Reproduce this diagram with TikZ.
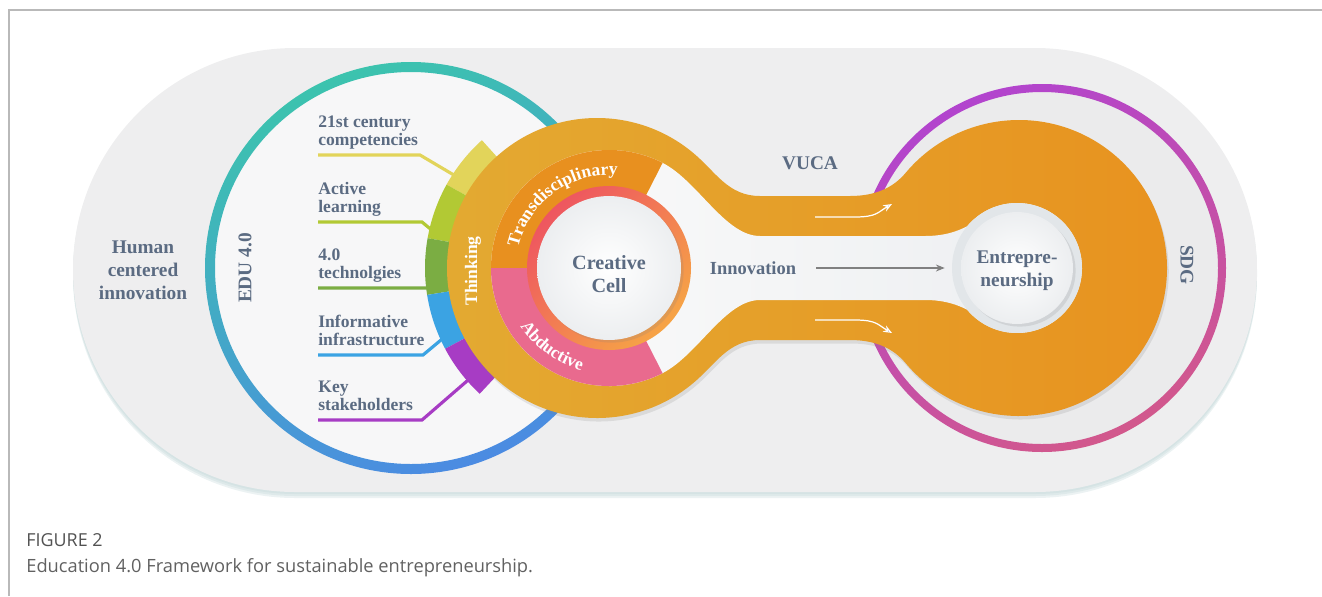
\documentclass[tikz,border=0pt]{standalone}
\usepackage{fontspec}
\setmainfont{Liberation Serif}
\newfontfamily\capfont{Open Sans}
\usepackage{tikz}
\usetikzlibrary{positioning, shadows, decorations.text, calc, arrows.meta}

\definecolor{slate}{HTML}{5B6B82}
\definecolor{pillgray}{HTML}{EEEEEF}
\definecolor{sdgfill}{HTML}{EBEBEC}
\definecolor{shadowblue}{HTML}{BFD5D6}
\definecolor{eduteal}{HTML}{3CC3AE}
\definecolor{edublue}{HTML}{4B8BE2}
\definecolor{segyellow}{HTML}{E2D45A}
\definecolor{seglime}{HTML}{B2C934}
\definecolor{seggreen}{HTML}{7BAD43}
\definecolor{segblue}{HTML}{3BA3E3}
\definecolor{segpurple}{HTML}{A73CC4}
\definecolor{goldring}{HTML}{E3AA32}
\definecolor{deeporange}{HTML}{E8921F}
\definecolor{transorange}{HTML}{E8901F}
\definecolor{abdpink}{HTML}{E96A8E}
\definecolor{cellred}{HTML}{EE5660}
\definecolor{cellorange}{HTML}{F6A446}
\definecolor{sdgpurple}{HTML}{B244CE}
\definecolor{sdgpink}{HTML}{D2588C}
\definecolor{channel}{HTML}{ECEEF0}
\definecolor{halogray}{HTML}{E2E6E9}

\begin{document}
\begin{tikzpicture}[
        x=0.02cm, y=0.02cm,
        font=\bfseries,
        % Styles
        itemlabel/.style={
            text=slate,
            align=left,
            anchor=south west,
            inner sep=0pt,
            font=\bfseries\fontsize{10}{10.3}\selectfont
          },
        title/.style={
            text=slate,
            align=center,
            inner sep=0pt,
            font=\bfseries\fontsize{11}{13.2}\selectfont
          },
        onband/.style={
            text=white,
            inner sep=0pt,
            font=\bfseries\fontsize{10}{12}\selectfont
          },
        leader/.style={
            line width=1.8pt
          },
        disk/.style={
            circle,
            inner color=white,
            outer color=channel,
            draw=none,
            drop shadow={opacity=0.18, shadow xshift=1.5pt, shadow yshift=-1.5pt}
          },
        arrow/.style={
            -{Stealth[length=5pt, width=4pt]},
            draw=gray,
            line width=0.6pt
          },
        swoosh/.style={
            -{Stealth[length=5pt, width=4pt]},
            draw=white,
            line width=0.7pt
          },
        caption/.style={
            anchor=base west,
            inner sep=0pt,
            font=\capfont\fontsize{10.4}{12}\selectfont,
            text=black!62
          }
      ]
      \useasboundingbox (0,0) rectangle (1322,-596);

      % Centres
      \coordinate (edu) at (411,-268);
      \coordinate (gold) at (597,-268);
      \coordinate (cell) at (609,-268);
      \coordinate (bigor) at (1019,-268);
      \coordinate (entre) at (1017,-268);
      \coordinate (sdg) at (1042,-268);

      % Frame
      \draw[gray!55, line width=0.8pt] (9,-596) -- (9,-10) -- (1322,-10);

      % Background pill
      \foreach \s in {2,4,6}
        \fill[shadowblue, opacity=0.3] (295,-48-\s) -- (1035,-48-\s) arc (90:-90:222) -- (295,-492-\s) arc (270:90:222) -- cycle;
      \fill[pillgray] (295,-48) -- (1035,-48) arc (90:-90:222) -- (295,-492) arc (270:90:222) -- cycle;
      \node[title] (human) at (143,-270) {Human\\centered\\innovation};

      % EDU 4.0 circle
      \fill[white!55!pillgray] (edu) circle[radius=200];
      \path[even odd rule, top color=eduteal, bottom color=edublue, shading angle=20] (edu) circle[radius=206] (edu) circle[radius=196];
      \node[title, rotate=90] (edulabel) at (245,-268) {EDU 4.0};

      % Item segments
      \fill[segyellow] ($(gold)+(132:172)$) arc (132:151:172) -- ($(gold)+(151:140)$) arc (151:132:140) -- cycle;
      \fill[seglime] ($(gold)+(151:172)$) arc (151:170:172) -- ($(gold)+(170:140)$) arc (170:151:140) -- cycle;
      \fill[seggreen] ($(gold)+(170:172)$) arc (170:189:172) -- ($(gold)+(189:140)$) arc (189:170:140) -- cycle;
      \fill[segblue] ($(gold)+(189:172)$) arc (189:208:172) -- ($(gold)+(208:140)$) arc (208:189:140) -- cycle;
      \fill[segpurple] ($(gold)+(208:172)$) arc (208:227:172) -- ($(gold)+(227:140)$) arc (227:208:140) -- cycle;
      \coordinate (seg1) at ($(gold)+(147:171)$);
      \coordinate (seg2) at ($(gold)+(167:170)$);
      \coordinate (seg3) at ($(gold)+(186.7:171)$);
      \coordinate (seg4) at ($(gold)+(204.6:170)$);
      \coordinate (seg5) at ($(gold)+(221:167)$);

      % Item labels
      \node[itemlabel] (comp) at (318,-151) {21st century\\competencies\strut};
      \node[itemlabel] (active) at (318,-218) {Active\\learning\strut};
      \node[itemlabel] (tech) at (318,-284) {4.0\\technolgies\strut};
      \node[itemlabel] (infra) at (318,-351) {Informative\\infrastructure\strut};
      \node[itemlabel] (stake) at (318,-416) {Key\\stakeholders\strut};

      % Leader lines
      \draw[leader, segyellow] (comp.south west) ++(0,-4) -- ++(102,0) -- (seg1);
      \draw[leader, seglime] (active.south west) ++(0,-4) -- ++(104,0) -- (seg2);
      \draw[leader, seggreen] (tech.south west) ++(0,-4) -- (seg3);
      \draw[leader, segblue] (infra.south west) ++(0,-4) -- ++(105,0) -- (seg4);
      \draw[leader, segpurple] (stake.south west) ++(0,-4) -- ++(104,0) -- (seg5);

      % SDG circle
      \fill[sdgfill] (sdg) circle[radius=178];
      \path[even odd rule, top color=sdgpurple, bottom color=sdgpink, shading angle=25] (sdg) circle[radius=184] (sdg) circle[radius=176];
      \node[title, rotate=-90] (sdglabel) at (1187,-265) {SDG};

      % Thinking ring, tubes and entrepreneurship body
      \path[drop shadow={opacity=0.18, shadow xshift=1pt, shadow yshift=-2pt}, left color=goldring, right color=deeporange]
        ($(gold)+(50:150)$) .. controls (716,-172) and (728,-196) .. (760,-196) -- (850,-196)
        .. controls (875,-196) and (893,-188) .. ($(bigor)+(140:148)$) arc (140:-140:148)
        .. controls (893,-348) and (875,-340) .. (850,-340) -- (760,-340)
        .. controls (728,-340) and (716,-364) .. ($(gold)+(-50:150)$) arc (-50:-310:150) -- cycle;

      % Innovation channel
      \path[left color=white!80!pillgray, right color=channel]
        ($(cell)+(63:118)$) .. controls (698,-181) and (725,-236) .. (760,-236) -- (925,-236)
        .. controls (945,-236) and (958,-231) .. ($(entre)+(140:65)$) arc (140:-140:65)
        .. controls (958,-305) and (945,-300) .. (925,-300) -- (760,-300)
        .. controls (725,-300) and (698,-355) .. ($(cell)+(-63:118)$) arc (-63:-297:118) -- cycle;

      % Transdisciplinary / Abductive band
      \fill[transorange] ($(cell)+(63:118)$) arc (63:180:118) -- ($(cell)+(180:81)$) arc (180:63:81) -- cycle;
      \fill[abdpink] ($(cell)+(180:118)$) arc (180:297:118) -- ($(cell)+(297:81)$) arc (297:180:81) -- cycle;
      \path[decorate, decoration={text along path, text align=center, text color=white,
          text={|\bfseries\fontsize{10}{12}\selectfont|Transdisciplinary}}]
        ($(cell)+(170:93)$) arc (170:82:93);
      \path[decorate, decoration={text along path, text align=center, text color=white,
          text={|\bfseries\fontsize{10}{12}\selectfont|Abductive}}]
        ($(cell)+(204:106)$) arc (204:264:106);
      \node[onband, rotate=90] (thinking) at (473,-271) {Thinking};

      % Creative cell
      \path[top color=cellred, bottom color=cellorange, shading angle=45] (cell) circle[radius=82];
      \node[disk, minimum size=2.88cm] (creative) at (cell) {};
      \node[title, font=\bfseries\fontsize{11.5}{13.2}\selectfont] (creativetxt) at ([yshift=-0.12cm]creative.center) {Creative\\Cell};

      % Entrepreneurship
      \node[circle, fill=halogray, minimum size=2.6cm, inner sep=0pt] (halo) at (entre) {};
      \node[disk, minimum size=2.24cm] (entrepreneur) at (entre) {};
      \node[title] (entretxt) at ([yshift=-0.06cm]entrepreneur.center) {Entrepre-\\neurship};

      % Labels in the flow
      \node[title] (vuca) at (810,-163) {VUCA};
      \node[title, font=\bfseries\fontsize{10.5}{12}\selectfont] (innov) at (753,-268) {Innovation};

      % Arrows
      \draw[arrow, shorten <=0.4cm, shorten >=0.14cm] (innov) -- (halo);
      \coordinate (up0) at (815,-217);
      \coordinate (up1) at (892,-204);
      \coordinate (dn0) at (815,-320);
      \coordinate (dn1) at (892,-333);
      \draw[swoosh] (up0) -- ++(40,0) .. controls +(22,0) and +(-14,-8) .. (up1);
      \draw[swoosh] (dn0) -- ++(40,0) .. controls +(22,0) and +(-14,8) .. (dn1);

      % Caption
      \node[caption, font=\capfont\fontsize{10.2}{12}\selectfont, text=black!68] (figlabel) at (26,-546) {FIGURE 2};
      \node[caption] (captext) at (26,-572) {Education 4.0 Framework for sustainable entrepreneurship.};

    \end{tikzpicture}
\end{document}
